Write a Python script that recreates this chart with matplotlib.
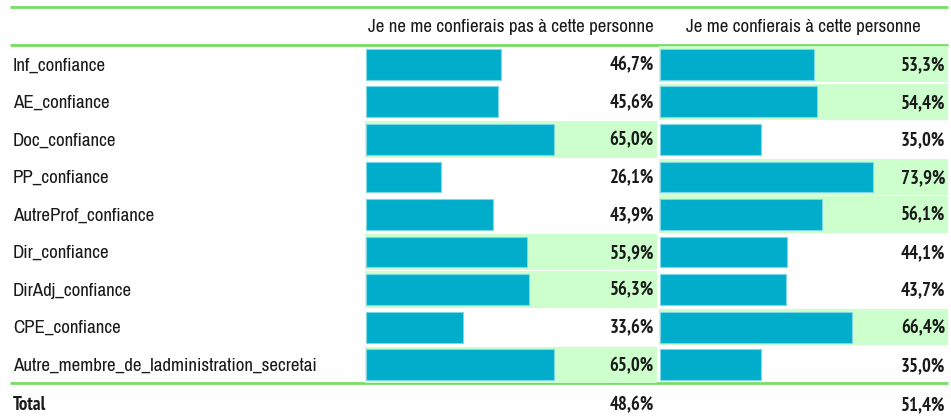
#!/usr/bin/env python3

import matplotlib
matplotlib.use("Agg")
import matplotlib.pyplot as plt

categories = ["Inf_confiance", "AE_confiance", "Doc_confiance", "PP_confiance",
              "AutreProf_confiance", "Dir_confiance", "DirAdj_confiance",
              "CPE_confiance", "Autre_membre_de_ladministration_secretai"]
columns = ["Je ne me confierais pas à cette personne",
           "Je me confierais à cette personne"]
pas_confiance = [46.7, 45.6, 65.0, 26.1, 43.9, 55.9, 56.3, 33.6, 65.0]
confiance = [53.3, 54.4, 35.0, 73.9, 56.1, 44.1, 43.7, 66.4, 35.0]
totals = [48.6, 51.4]

BAR = "#00aecb"
HILITE = "#ccffcc"
LINE = "#77dd66"
TXT = "#1a1a1a"

REG = ["Archivo Narrow", "DejaVu Sans"]
BOLD = ["PT Sans Narrow", "DejaVu Sans"]
FS = 13.7
FSB = 13.5

W, H = 951, 419


def fmt(v):
    return f"{v:.1f}%".replace(".", ",")


def main():
    fig = plt.figure(figsize=(W / 100, H / 100), dpi=100)

    # frame axes in pixel coordinates, for rules and labels
    frame = fig.add_axes([0, 0, 1, 1])
    frame.set_xlim(0, W)
    frame.set_ylim(H, 0)
    frame.axis("off")

    for y in (7, 45, 383):
        frame.plot([10, 948], [y, y], color=LINE, lw=2, solid_capstyle="butt")

    n = len(categories)
    top, bottom = 45.5, 383.5
    pitch = (bottom - top) / n
    for i, cat in enumerate(categories):
        frame.text(13, top + pitch * (i + 0.5) + 1, cat, ha="left", va="center",
                   fontsize=FS, color=TXT, family=REG)
    frame.text(13, 405, "Total", ha="left", va="center", fontsize=FSB,
               color=TXT, fontweight="bold", family=BOLD)

    col_x = [(365, 657), (659, 948)]
    for (x0, x1), title in zip(col_x, columns):
        frame.text((x0 + x1) / 2, 27, title, ha="center", va="center",
                   fontsize=FS, color=TXT, family=REG)

    # one axes per column, percentage scale
    px_per_unit = 2.888
    for (x0, x1), vals, tot in zip(col_x, [pas_confiance, confiance], totals):
        ax = fig.add_axes([x0 / W, 1 - bottom / H, (x1 - x0) / W, (bottom - top) / H])
        ax.set_xlim(-1 / px_per_unit, -1 / px_per_unit + (x1 - x0) / px_per_unit)
        ax.set_ylim(n - 0.5, -0.5)
        ax.axis("off")
        right = (x1 - x0 - 4) / px_per_unit
        for i, v in enumerate(vals):
            if v > 50:
                ax.barh(i, right + 5, left=-1, height=0.97, color=HILITE, zorder=0)
            ax.text(right, i + 0.03, fmt(v), ha="right", va="center", fontsize=FSB,
                    fontweight="bold", color=TXT, family=BOLD)
        ax.barh(range(n), vals, height=0.82, color=BAR, edgecolor="#7fd6e5",
                lw=0.8, zorder=2)
        ax.text(right, n + 0.08, fmt(tot), ha="right", va="center", fontsize=FSB,
                fontweight="bold", color=TXT, family=BOLD, clip_on=False)

    fig.savefig("out.png", dpi=100)


if __name__ == "__main__":
    main()
